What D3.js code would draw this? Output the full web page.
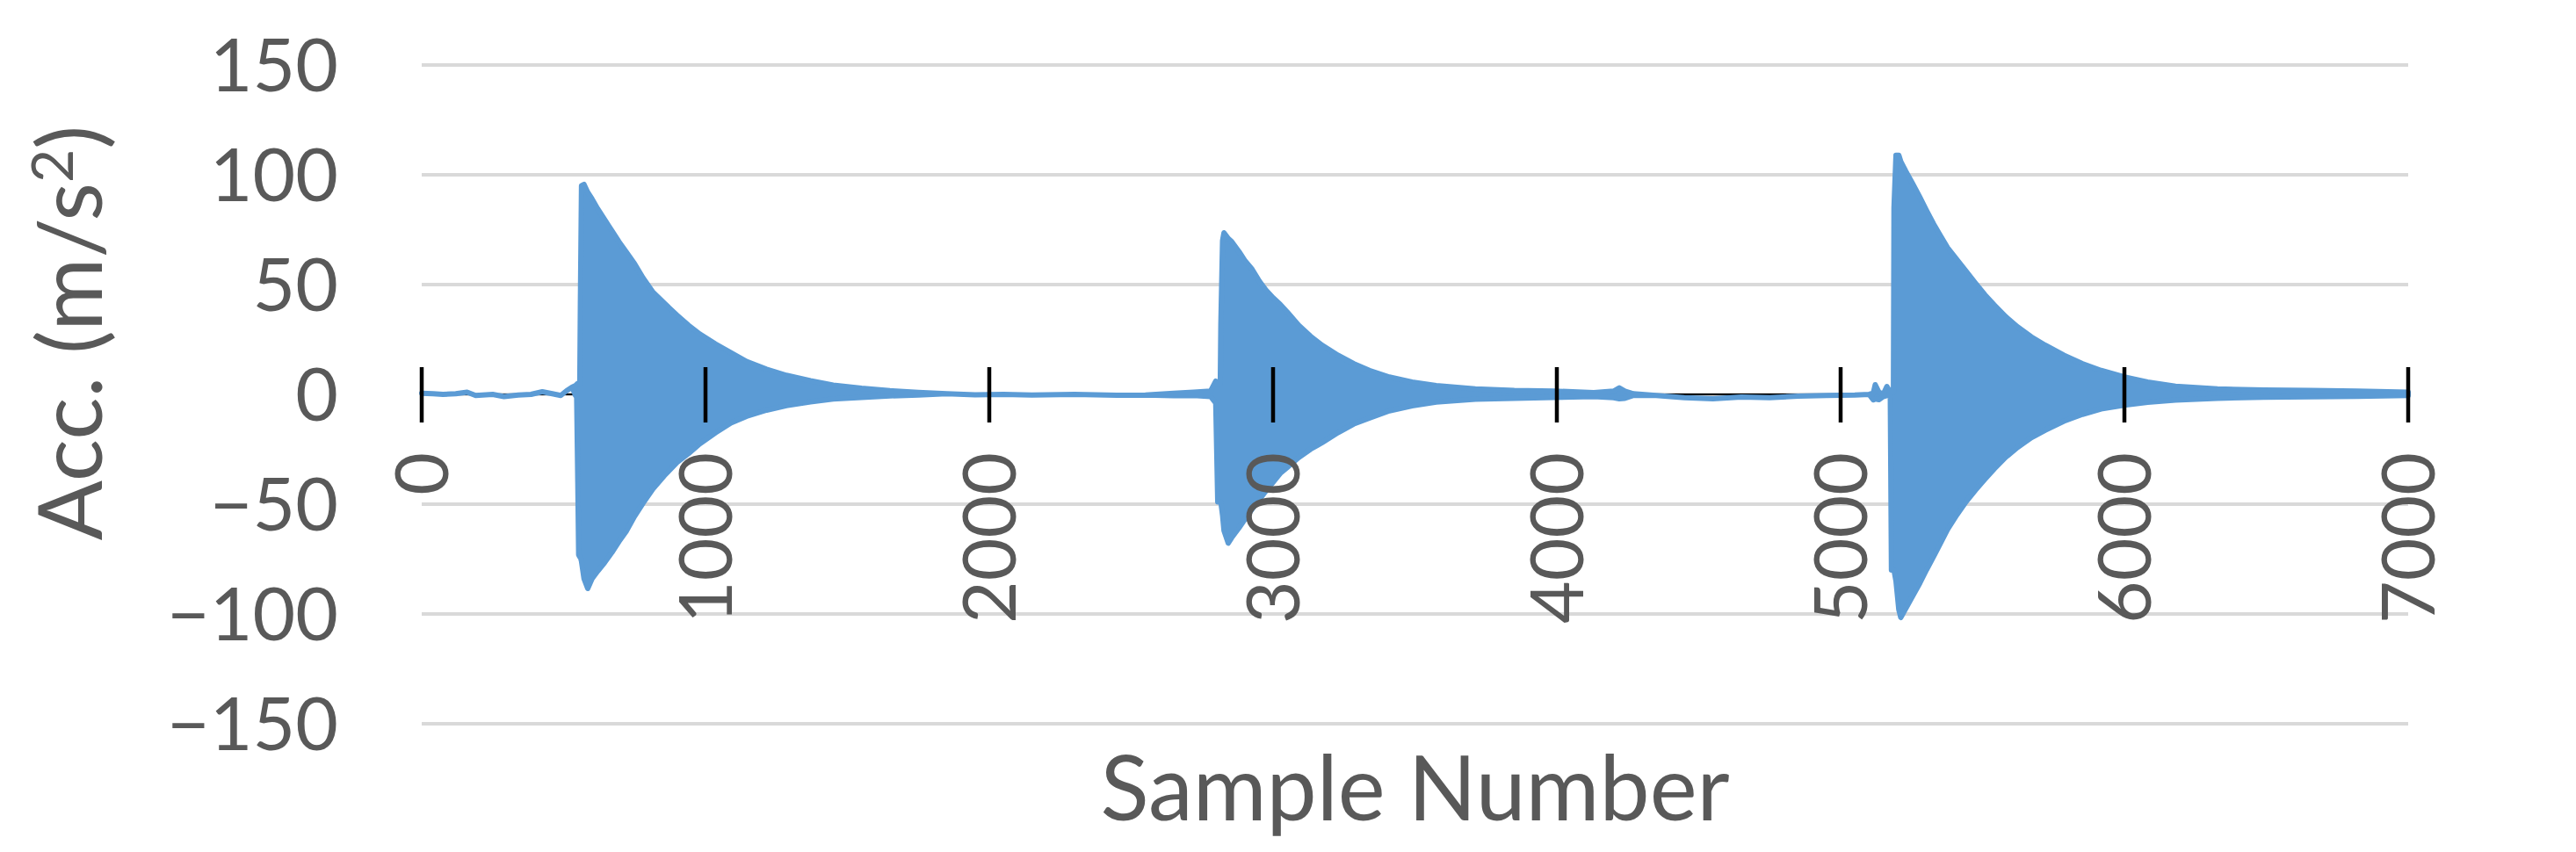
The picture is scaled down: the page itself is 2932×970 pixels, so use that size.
<!DOCTYPE html>
<html><head><meta charset="utf-8">
<script src="https://cdn.jsdelivr.net/npm/d3@7"></script>
<style>html,body{margin:0;padding:0;background:#fff;} svg{display:block;}</style>
</head><body>
<svg id="chart" width="2932" height="970"></svg>
<script>
const sampleNumbers = [
  0, 40, 75, 120, 160, 190, 250, 290, 340, 385, 425, 460, 490, 510, 530, 542,
  546, 550, 553, 557, 559, 563, 572, 585, 600, 620, 645, 670, 695, 720, 750, 780,
  815, 855, 900, 940, 980, 1035, 1090, 1145, 1215, 1285, 1370, 1450, 1550, 1650, 1750,
  1850, 1950, 2050, 2150, 2300, 2450, 2550, 2650, 2720, 2780, 2798,
  2805, 2814, 2816, 2822, 2827, 2842, 2854, 2880, 2900, 2926, 2952, 2975, 3000, 3025,
  3050, 3090, 3132, 3173, 3229, 3284, 3340, 3410, 3490, 3575, 3713, 3850, 3990, 4130,
  4200, 4220, 4240, 4270,
  4350, 4450, 4550, 4650, 4750, 4850, 4950, 5050, 5100, 5115, 5122, 5135, 5150, 5163, 5175,
  5179, 5186, 5188, 5195, 5205, 5212, 5230, 5254, 5279, 5303, 5328, 5352, 5377, 5410,
  5443, 5475, 5508, 5541, 5582, 5623, 5672, 5721, 5787, 5852, 5918, 6000, 6082, 6180,
  6328, 6492, 6656, 6820, 7000
];
const upperAcc = [
  0.5, 0.3, 0, 0.3, 1, -0.5, 0, -1, -0.3, 0, 1.2, 0.3, -0.5, 1.6, 3.3, 4,
  4.5, 5, 5, 5, 40, 95, 95.6, 92, 89, 84.5, 79.5, 74.5, 69.5, 65, 59.5, 53,
  46.5, 41.5, 36, 31.5, 27.5, 23, 19, 15, 11.5, 8.7, 6.2, 4.2, 2.8, 1.7, 0.9,
  0.3, -0.2, 0, -0.3, 0, -0.4, -0.3, 0.5, 1, 1.5, 6,
  5, 5, 32, 70, 73.6, 71, 69.6, 65, 61, 57, 51.5, 47.5, 44, 41,
  37.5, 31.5, 26.5, 22.4, 17.8, 14, 10.9, 7.9, 5.6, 4, 2.5, 1.8, 1.5, 0.8,
  1.5, 3, 1.5, 0.3,
  -0.5, -1.5, -2, -1.2, -1.5, -0.8, -0.5, -0.3, 0, 0.5, 4.4, 1, 0, 3.6, 1,
  1, 1, 85, 108.9, 108.9, 106, 101.5, 95.9, 89.8, 83.7, 77.5, 72.2, 66.8, 61.4,
  56, 50.7, 45.4, 40.8, 35.4, 30.8, 26.2, 22.4, 17.8, 14, 10.9, 7.9, 5.6, 3.7,
  2.5, 2, 1.8, 1.5, 1
];
const lowerAcc = [
  0.5, 0.3, 0, 0.3, 1, -0.5, 0, -1, -0.3, 0, 1.2, 0.3, -0.5, 1.6, 3.3, -0.5,
  -1, -40, -73, -74, -74, -76, -84, -88.4, -84, -80.5, -76.5, -72, -67, -62.5, -55.5, -49.5,
  -43, -37, -31, -27, -22.5, -17.5, -13, -10, -7.2, -5.1, -3.4, -2.1, -1.4, -0.7, -0.3,
  0.3, -0.2, 0, -0.3, 0, -0.4, -0.3, -0.6, -0.5, -1, -4,
  -49, -49, -49, -55, -62, -67.7, -65.3, -60.8, -57, -52.3, -47.9, -44, -40, -36,
  -33.3, -28.8, -25, -22, -17.4, -13.5, -10.8, -7.5, -5.2, -3.5, -2.2, -1.8, -1.4, -1,
  -1.5, -2, -1.8, -0.5,
  -0.5, -1.5, -2, -1.2, -1.5, -0.8, -0.5, -0.3, 0, -2.5, -2, -2.4, -1, -0.5, -1,
  -80, -80, -80, -85, -98, -101.6, -97.4, -91.8, -86, -79.8, -73.7, -67.8, -61.5, -54.8,
  -48.7, -43.6, -38.7, -34, -28.6, -24.2, -19.7, -16.3, -12.2, -9.1, -6.6, -4.9, -3.6, -2.6,
  -1.8, -1.3, -1.1, -0.9, -0.5
];
const xTickValues = [0, 1000, 2000, 3000, 4000, 5000, 6000, 7000];
const yTickValues = [-150, -100, -50, 0, 50, 100, 150];
const xTitle = "Sample Number";
const yTitleMain = "Acc. (m/s";
const yTitleSup = "2";
const yTitleEnd = ")";

const W = 2932, H = 970;
const plot = {left: 480, right: 2741, top: 74, bottom: 824};
const x = d3.scaleLinear().domain([0, 7000]).range([plot.left, plot.right]);
const y = d3.scaleLinear().domain([-150, 150]).range([plot.bottom, plot.top]);
const fontFam = "Lato, 'Open Sans', sans-serif";
const textColor = "#595959";
const lineColor = "#5B9BD5";
const tickFont = 84;

const svg = d3.select('#chart');
svg.append('rect').attr('width', W).attr('height', H).attr('fill', '#fff');

// gridlines
svg.append('g').selectAll('line').data(yTickValues).join('line')
  .attr('x1', plot.left).attr('x2', plot.right)
  .attr('y1', d => y(d)).attr('y2', d => y(d))
  .attr('stroke', '#D9D9D9').attr('stroke-width', 4);

// y tick labels
const fmt = d3.format("");
svg.append('g').selectAll('text').data(yTickValues).join('text')
  .attr('x', 385).attr('y', d => y(d) + 30)
  .attr('text-anchor', 'end')
  .attr('font-family', fontFam).attr('font-size', tickFont)
  .attr('fill', textColor)
  .text(d => fmt(d));

// horizontal axis line (beneath the series)
svg.append('line')
  .attr('x1', x(0)).attr('x2', x(7000)).attr('y1', y(0)).attr('y2', y(0))
  .attr('stroke', '#000').attr('stroke-width', 2);

// series (envelope of dense oscillation)
const pts = sampleNumbers.map((s, i) => ({s, hi: upperAcc[i], lo: lowerAcc[i]}));
const area = d3.area()
  .x(d => x(d.s))
  .y0(d => y(d.lo))
  .y1(d => y(d.hi));
svg.append('path').datum(pts)
  .attr('d', area)
  .attr('fill', lineColor)
  .attr('stroke', lineColor)
  .attr('stroke-width', 6)
  .attr('stroke-linejoin', 'round')
  .attr('stroke-linecap', 'round');

// tick marks (cross)
svg.append('g').selectAll('line').data(xTickValues).join('line')
  .attr('x1', d => x(d)).attr('x2', d => x(d))
  .attr('y1', y(0) - 31).attr('y2', y(0) + 32)
  .attr('stroke', '#000').attr('stroke-width', 4.5);

// x tick labels (rotated)
svg.append('g').selectAll('text').data(xTickValues).join('text')
  .attr('transform', d => `translate(${x(d) + 30},515) rotate(-90)`)
  .attr('text-anchor', 'end')
  .attr('font-family', fontFam).attr('font-size', tickFont)
  .attr('fill', textColor)
  .text(d => fmt(d));

// x axis title
svg.append('text')
  .attr('x', (plot.left + plot.right) / 2).attr('y', 934)
  .attr('text-anchor', 'middle')
  .attr('font-family', fontFam).attr('font-size', 102)
  .attr('fill', textColor)
  .text(xTitle);

// y axis title
const yt = svg.append('text')
  .attr('transform', 'translate(116,379) rotate(-90)')
  .attr('text-anchor', 'middle')
  .attr('font-family', fontFam).attr('font-size', 101)
  .attr('fill', textColor);
yt.append('tspan').text(yTitleMain);
yt.append('tspan').attr('font-size', 66).attr('dy', -33).text(yTitleSup);
yt.append('tspan').attr('dy', 33).text(yTitleEnd);
</script>
</body></html>
